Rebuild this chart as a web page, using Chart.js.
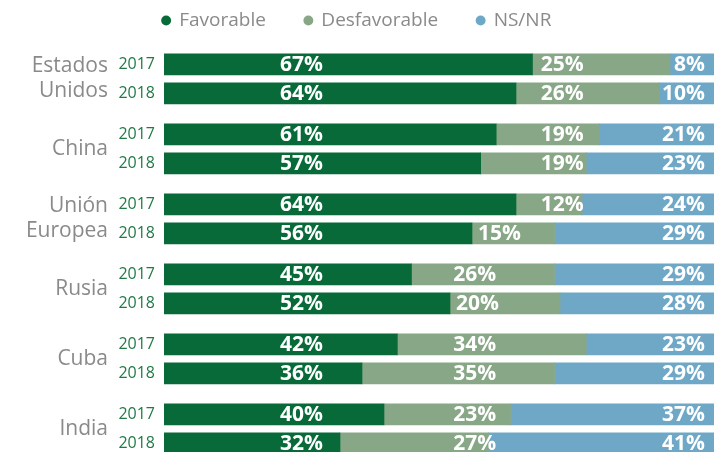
<!DOCTYPE html>
<html>
<head>
<meta charset="utf-8">
<script src="https://cdn.jsdelivr.net/npm/chart.js@4"></script>
<style>
html, body { margin: 0; padding: 0; background: #fff; }
</style>
</head>
<body>
<canvas id="chart" width="714" height="452"></canvas>
<script>
// Opinión por país, 2017 y 2018 (%)
const countries = ['Estados\nUnidos', 'China', 'Unión\nEuropea', 'Rusia', 'Cuba', 'India'];
const years = ['2017', '2018'];
const favorable = [67, 64, 61, 57, 64, 56, 45, 52, 42, 36, 40, 32];
const desfavorable = [25, 26, 19, 19, 12, 15, 26, 20, 34, 35, 23, 27];
const nsnr = [8, 10, 21, 23, 24, 29, 29, 28, 23, 29, 37, 41];

const GROUP_STEP = 2.414; // distance between country groups, in row units
const rowPos = favorable.map((v, i) => Math.floor(i / 2) * GROUP_STEP + (i % 2));
const totals = favorable.map((v, i) => v + desfavorable[i] + nsnr[i]);

function series(values) {
    return values.map((v, i) => ({ x: v / totals[i] * 100, y: rowPos[i] }));
}

const barLabels = {
    id: 'barLabels',
    afterDatasetsDraw(chart) {
        const ctx = chart.ctx;
        const xs = chart.scales.x;
        const ys = chart.scales.y;
        const raw = [favorable, desfavorable, nsnr];
        ctx.save();
        ctx.fillStyle = '#ffffff';
        ctx.font = 'bold 21px "Open Sans"';
        ctx.textBaseline = 'middle';
        chart.data.datasets.forEach((ds, d) => {
            chart.getDatasetMeta(d).data.forEach((bar, i) => {
                const txt = raw[d][i] + '%';
                const w = ctx.measureText(txt).width;
                let x;
                if (d === 0) {
                    ctx.textAlign = 'center';
                    x = xs.getPixelForValue(25);
                } else if (d === 1) {
                    ctx.textAlign = 'center';
                    const start = favorable[i] / totals[i] * 100;
                    if (start > 57) {
                        x = xs.getPixelForValue(72.4);
                    } else {
                        x = Math.max(xs.getPixelForValue(56.5), xs.getPixelForValue(start) + 6 + w / 2);
                    }
                } else {
                    ctx.textAlign = 'right';
                    x = chart.chartArea.right - 9;
                }
                ctx.fillText(txt, x, bar.y + 1);
            });
        });

        // country names on the left
        ctx.fillStyle = '#8a8a8a';
        ctx.font = '21px "Open Sans"';
        ctx.textAlign = 'right';
        countries.forEach((name, g) => {
            const mid = ys.getPixelForValue((rowPos[g * 2] + rowPos[g * 2 + 1]) / 2);
            const lines = name.split('\n');
            lines.forEach((line, j) => {
                const off = (j - (lines.length - 1) / 2) * 25;
                ctx.fillText(line, 108, mid + off);
            });
        });
        ctx.restore();
    }
};

// legend sits in a fixed band above the bars
const legendHeight = {
    id: 'legendHeight',
    beforeInit(chart) {
        const fit = chart.legend.fit;
        chart.legend.fit = function () {
            fit.call(this);
            this.height = 72;
        };
    }
};

new Chart(document.getElementById('chart'), {
    type: 'bar',
    data: {
        datasets: [
            { label: 'Favorable', data: series(favorable), backgroundColor: '#076a38', borderWidth: 0 },
            { label: 'Desfavorable', data: series(desfavorable), backgroundColor: '#88a786', borderWidth: 0 },
            { label: 'NS/NR', data: series(nsnr), backgroundColor: '#6fa8c6', borderWidth: 0 }
        ]
    },
    options: {
        indexAxis: 'y',
        responsive: false,
        animation: false,
        barThickness: 21,
        layout: { padding: { top: -28, left: 0, right: 0, bottom: 0 } },
        scales: {
            x: {
                stacked: true,
                min: 0,
                max: 100,
                display: false
            },
            y: {
                type: 'linear',
                stacked: true,
                reverse: true,
                offset: false,
                min: -0.7,
                max: 13.37,
                afterBuildTicks: axis => {
                    axis.ticks = rowPos.map(v => ({ value: v }));
                },
                afterFit: axis => {
                    axis.width = 164;
                    axis.paddingTop = 0;
                    axis.paddingBottom = 0;
                },
                grid: { display: false, drawTicks: false, offset: false },
                border: { display: false },
                ticks: {
                    autoSkip: false,
                    padding: 9,
                    color: '#1f7a45',
                    font: { family: 'Open Sans', size: 16 },
                    callback: (v, i) => years[i % 2]
                }
            }
        },
        plugins: {
            legend: {
                position: 'top',
                labels: {
                    usePointStyle: true,
                    pointStyle: 'circle',
                    boxWidth: 7,
                    boxHeight: 7,
                    padding: 39,
                    color: '#8a8a8a',
                    font: { family: 'Open Sans', size: 19 }
                }
            },
            tooltip: { enabled: false }
        }
    },
    plugins: [legendHeight, barLabels]
});
</script>
</body>
</html>
